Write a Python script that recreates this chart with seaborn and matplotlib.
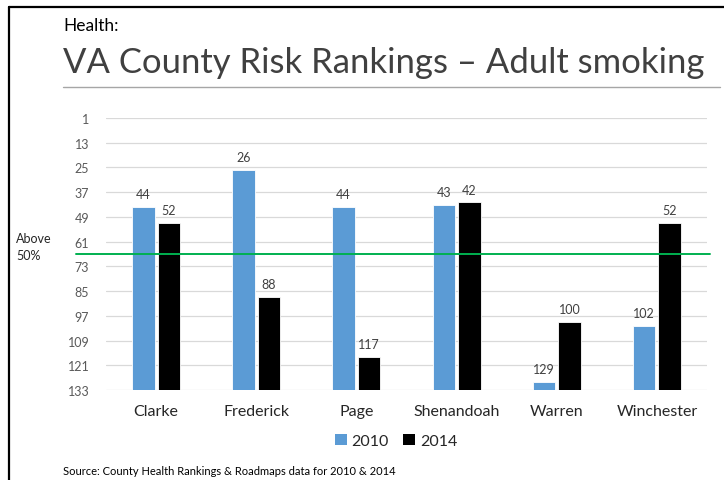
import matplotlib
matplotlib.use("Agg")
import matplotlib.pyplot as plt
import seaborn as sns
import pandas as pd
from matplotlib.lines import Line2D
from matplotlib.patches import Patch

# county risk ranks (1 = best, 133 = worst)
counties = ["Clarke", "Frederick", "Page", "Shenandoah", "Warren", "Winchester"]
rank_2010 = [44, 26, 44, 43, 129, 102]
rank_2014 = [52, 88, 117, 42, 100, 52]
years = ["2010", "2014"]
rank_ticks = [1, 13, 25, 37, 49, 61, 73, 85, 97, 109, 121, 133]
worst_rank = 133
half_rank = 67

colors = {"2010": "#5B9BD5", "2014": "#000000"}

sns.set_theme(style="white")
plt.rcParams["font.family"] = ["Lato", "DejaVu Sans"]

df = pd.DataFrame({
    "county": counties * 2,
    "year": [years[0]] * len(counties) + [years[1]] * len(counties),
    "rank": rank_2010 + rank_2014,
})
# bars grow up from the worst rank, so plot distance from the bottom
df["height"] = worst_rank - df["rank"]

fig = plt.figure(figsize=(7.24, 4.81), dpi=100)
ax = fig.add_axes([106 / 724, 1 - 391 / 481, 601 / 724, 272 / 481])

sns.barplot(data=df, x="county", y="height", hue="year", palette=colors,
            width=0.51, gap=0.12, ax=ax, legend=False, zorder=2, saturation=1,
            edgecolor="white", linewidth=0.6)

ax.set_ylim(0, worst_rank - 1)
ax.set_yticks([worst_rank - t for t in rank_ticks])
ax.set_yticklabels([str(t) for t in rank_ticks])
ax.grid(axis="y", color="#D9D9D9", linewidth=0.9, zorder=0)
ax.set_axisbelow(True)
for s in ax.spines.values():
    s.set_visible(False)
ax.tick_params(axis="y", length=0, labelsize=9, labelcolor="#595959", pad=12)
ax.tick_params(axis="x", length=0, labelsize=11.5, labelcolor="#262626", pad=10)
ax.set_xlabel("")
ax.set_ylabel("")

# rank labels above the bars
for cont, yr in zip(ax.containers, years):
    vals = df[df["year"] == yr]["rank"].tolist()
    ax.bar_label(cont, labels=[str(v) for v in vals], padding=5,
                 fontsize=9, color="#404040")

# 50% line
ax.axhline(worst_rank - half_rank, color="#00B050", linewidth=1.4, zorder=3,
           xmin=-0.05, xmax=1.005, clip_on=False)
fig.text(16 / 724, 1 - 248 / 481, "Above\n50%", fontsize=9, color="#262626",
         va="center", ha="left", linespacing=1.5)

handles = [Patch(facecolor=colors[y], edgecolor="none") for y in years]
fig.legend(handles, years, loc="center", bbox_to_anchor=(396 / 724, 1 - 442 / 481),
           ncol=2, frameon=False, fontsize=11.5, handlelength=0.75,
           handleheight=0.75, handletextpad=0.3, columnspacing=0.9)

# headings
fig.text(63 / 724, 1 - 26 / 481, "Health:", fontsize=12.5, color="#000000",
         va="center", ha="left")
title = fig.text(63 / 724, 1 - 63 / 481, "VA County Risk Rankings \u2013 Adult smoking",
                 fontsize=28, color="#404040", va="center", ha="left")
fig.canvas.draw()
w = title.get_window_extent().width
title.set_fontsize(28 * 640 / w)

fig.add_artist(Line2D([63 / 724, 720 / 724], [1 - 88 / 481] * 2,
                      color="#A6A6A6", linewidth=1.0))
fig.text(63 / 724, 1 - 472 / 481,
         "Source: County Health Rankings & Roadmaps data for 2010 & 2014",
         fontsize=8, color="#000000", va="center", ha="left")

# frame edges
fig.add_artist(Line2D([9 / 724, 9 / 724], [0, 1 - 8 / 481], color="black", linewidth=1.6))
fig.add_artist(Line2D([9 / 724, 1], [1 - 8 / 481] * 2, color="black", linewidth=1.6))

fig.savefig("out.png", dpi=100)
